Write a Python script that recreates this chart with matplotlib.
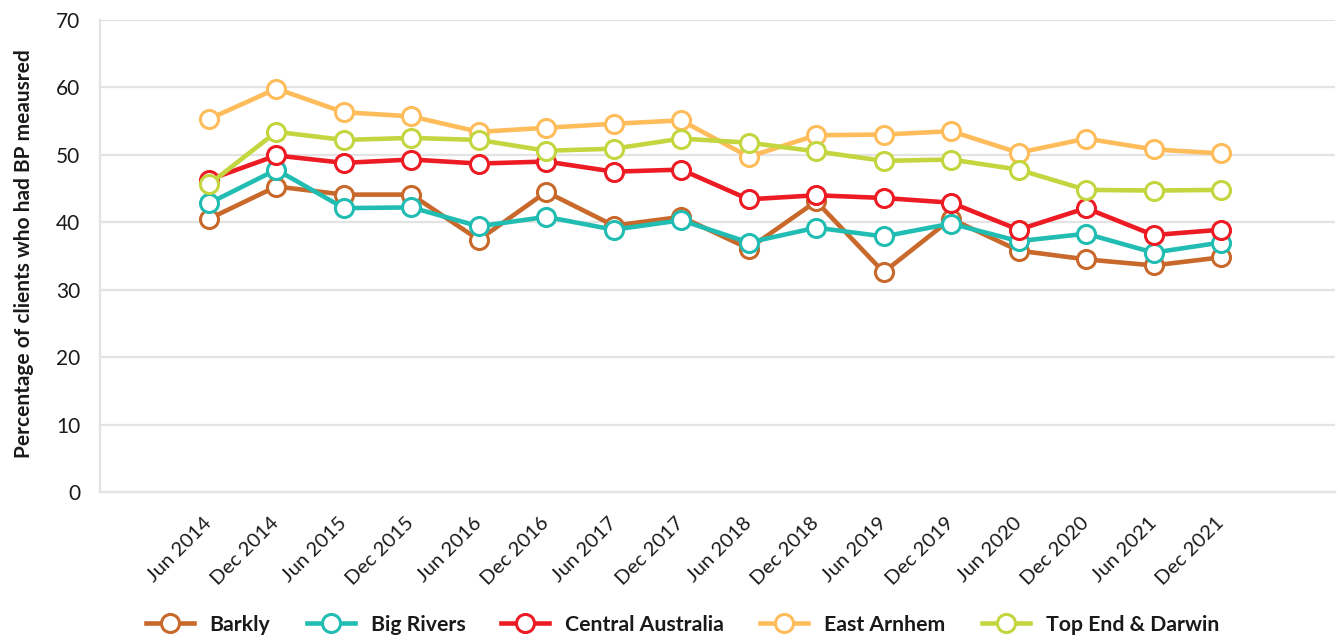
import matplotlib
matplotlib.use("Agg")
import matplotlib.pyplot as plt
from matplotlib.lines import Line2D

plt.rcParams['font.family'] = ['Lato', 'DejaVu Sans']

periods = ["Jun 2014", "Dec 2014", "Jun 2015", "Dec 2015", "Jun 2016", "Dec 2016",
           "Jun 2017", "Dec 2017", "Jun 2018", "Dec 2018", "Jun 2019", "Dec 2019",
           "Jun 2020", "Dec 2020", "Jun 2021", "Dec 2021"]

barkly = [40.5, 45.3, 44.1, 44.1, 37.4, 44.5, 39.5, 40.8, 36.1, 43.1, 32.6, 40.5,
          35.8, 34.5, 33.6, 34.8]
big_rivers = [42.8, 47.8, 42.1, 42.2, 39.4, 40.8, 38.9, 40.3, 37.0, 39.2, 37.9, 39.8,
              37.2, 38.3, 35.5, 37.0]
central_australia = [46.3, 49.9, 48.8, 49.3, 48.7, 49.0, 47.5, 47.8, 43.4, 44.0, 43.6, 42.9,
                     38.9, 42.1, 38.1, 38.9]
east_arnhem = [55.3, 59.8, 56.3, 55.7, 53.4, 54.0, 54.6, 55.1, 49.7, 52.9, 53.0, 53.5,
               50.3, 52.4, 50.8, 50.2]
top_end_darwin = [45.6, 53.4, 52.2, 52.5, 52.2, 50.6, 50.9, 52.4, 51.8, 50.5, 49.1, 49.3,
                  47.8, 44.8, 44.7, 44.8]

series = [
    ("Barkly", barkly, "#C8692B"),
    ("Big Rivers", big_rivers, "#22BDB2"),
    ("Central Australia", central_australia, "#ED1C24"),
    ("East Arnhem", east_arnhem, "#FEBC5A"),
    ("Top End & Darwin", top_end_darwin, "#C3D63F"),
]

fig = plt.figure(figsize=(13.38, 6.4), dpi=100)
ax = fig.add_axes([0.0747, 0.231, 0.9231, 0.738])

x = list(range(len(periods)))
handles = []
style = dict(lw=3.3, marker='o', ms=13, mfc='white', mew=2.2)
for name, vals, color in series:
    ax.plot(x, vals, color=color, mec=color, solid_capstyle='round', zorder=3, **style)
    handles.append(Line2D([0], [0], color=color, mec=color, label=name, **style))

ax.set_ylim(0, 70)
ax.set_yticks(range(0, 71, 10))
ax.set_xlim(-1.615, 16.69)
ax.set_xticks(x)
ax.set_xticklabels(periods, rotation=45, ha='right', va='center',
                   rotation_mode='anchor', fontsize=14.5, color='#1a1a1a')
ax.tick_params(axis='x', length=0, pad=20)
ax.tick_params(axis='y', length=0, pad=14, labelsize=15, labelcolor='#1a1a1a')

ax.grid(axis='y', color='#e3e3e3', lw=1.6, zorder=0)
for side in ['top', 'right']:
    ax.spines[side].set_visible(False)
for side in ['left', 'bottom']:
    ax.spines[side].set_color('#e3e3e3')
    ax.spines[side].set_linewidth(1.6)

ax.set_ylabel("Percentage of clients who had BP meausred", fontsize=15,
              fontweight='bold', color='#1a1a1a')
ax.yaxis.set_label_coords(-0.053, 0.505)

leg = fig.legend(handles=handles, loc='center', bbox_to_anchor=(0.51, 0.024),
                 ncol=5, frameon=False, handlelength=2.26, columnspacing=1.7,
                 handletextpad=0.75, prop={'weight': 'bold', 'size': 15.3})
for t in leg.get_texts():
    t.set_color('#1a1a1a')

fig.savefig("out.png", dpi=100)
